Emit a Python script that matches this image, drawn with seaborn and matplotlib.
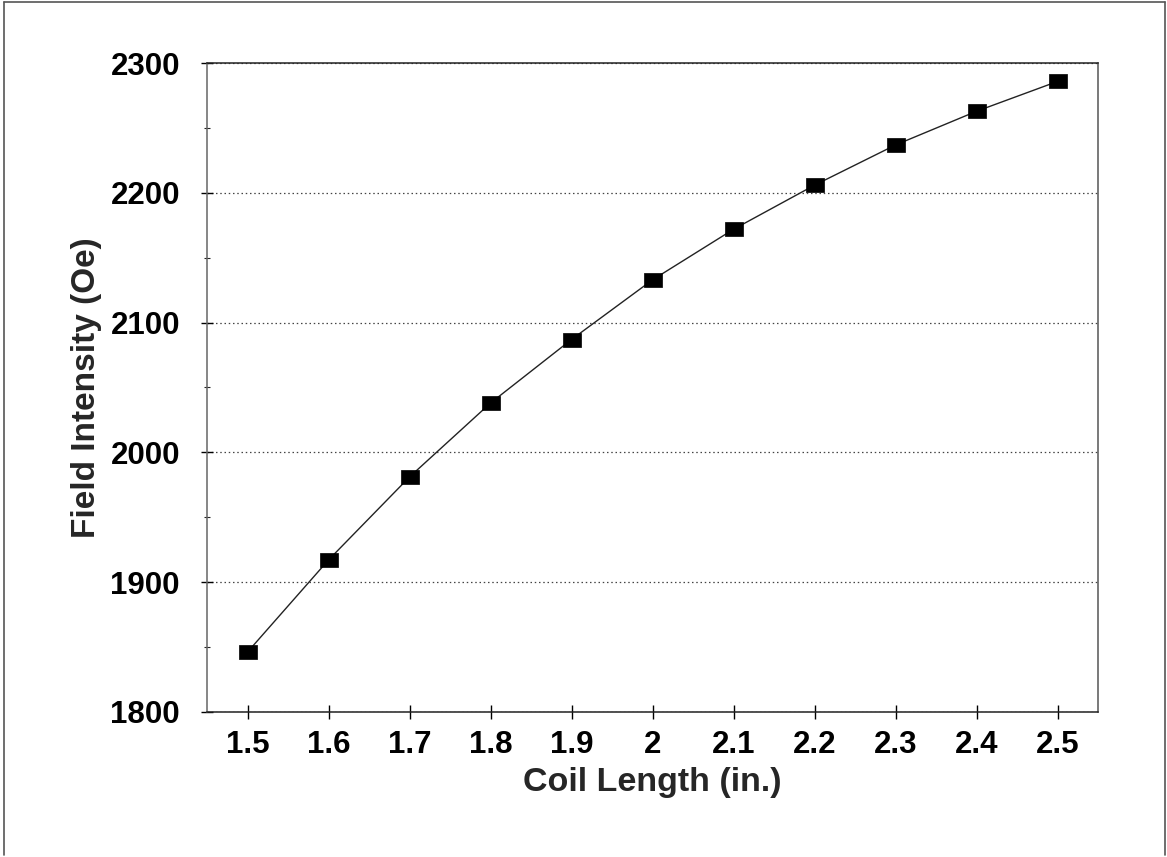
import matplotlib
matplotlib.use("Agg")
import matplotlib.pyplot as plt
from matplotlib.lines import Line2D
from matplotlib.ticker import MultipleLocator
import seaborn as sns
import pandas as pd

# Data
coil_length = [1.5, 1.6, 1.7, 1.8, 1.9, 2.0, 2.1, 2.2, 2.3, 2.4, 2.5]
field_intensity = [1846, 1917, 1981, 2038, 2087, 2133, 2172, 2206, 2237, 2263, 2286]
x_tick_labels = ["1.5", "1.6", "1.7", "1.8", "1.9", "2", "2.1", "2.2", "2.3", "2.4", "2.5"]
y_ticks = [1800, 1900, 2000, 2100, 2200, 2300]

df = pd.DataFrame({"Coil Length (in.)": coil_length, "Field Intensity (Oe)": field_intensity})

sns.set_style("ticks")
plt.rcParams["font.family"] = ["Liberation Sans", "DejaVu Sans"]
plt.rcParams["font.weight"] = "bold"

W, H = 1167, 857
fig = plt.figure(figsize=(W / 100, H / 100), dpi=100)
ax = fig.add_axes([207 / W, 1 - 711.7 / H, (1098 - 207) / W, (711.7 - 63.3) / H])

rect_marker = [(-1, -0.76), (1, -0.76), (1, 0.76), (-1, 0.76), (-1, -0.76)]
sns.lineplot(data=df, x="Coil Length (in.)", y="Field Intensity (Oe)", ax=ax,
             color="#222222", linewidth=1.0, marker=rect_marker, markersize=13,
             markerfacecolor="black", markeredgecolor="black", markeredgewidth=0.5,
             zorder=3)

ax.set_xlim(1.45, 2.55)
ax.set_ylim(1800, 2300)
ax.set_xticks(coil_length)
ax.set_xticklabels(x_tick_labels)
ax.set_yticks(y_ticks)
ax.yaxis.set_minor_locator(MultipleLocator(50))

ax.yaxis.grid(True, which="major", linestyle=(0, (1.2, 2.2)), color="#444444", linewidth=0.9)
ax.xaxis.grid(False)

ax.tick_params(axis="x", which="major", direction="inout", length=10, width=1.0,
               labelsize=22.5, pad=8, colors="black")
ax.tick_params(axis="y", which="major", direction="inout", length=9, width=1.0,
               labelsize=22.5, pad=15, colors="black")
ax.tick_params(axis="y", which="minor", direction="inout", length=5, width=0.8)

for lab in ax.get_xticklabels() + ax.get_yticklabels():
    lab.set_fontweight("bold")

ax.set_xlabel("Coil Length (in.)", fontsize=24.5, fontweight="bold", labelpad=5)
ax.set_ylabel("Field Intensity (Oe)", fontsize=24, fontweight="bold", labelpad=6)

for side in ["top", "right", "bottom", "left"]:
    ax.spines[side].set_visible(True)
    ax.spines[side].set_color("#222222")
    ax.spines[side].set_linewidth(1.1)
ax.spines["left"].set_color("#666666")
ax.spines["right"].set_color("#555555")

# Outer frame of the figure
fx0, fx1 = 4 / W, 1165 / W
fy0, fy1 = 1 - 855 / H, 1 - 2 / H
for xs, ys in [([fx0, fx1], [fy1, fy1]), ([fx0, fx0], [fy0, fy1]), ([fx1, fx1], [fy0, fy1])]:
    fig.add_artist(Line2D(xs, ys, transform=fig.transFigure, color="#555555", linewidth=1.2))

fig.savefig("out.png", dpi=100)
